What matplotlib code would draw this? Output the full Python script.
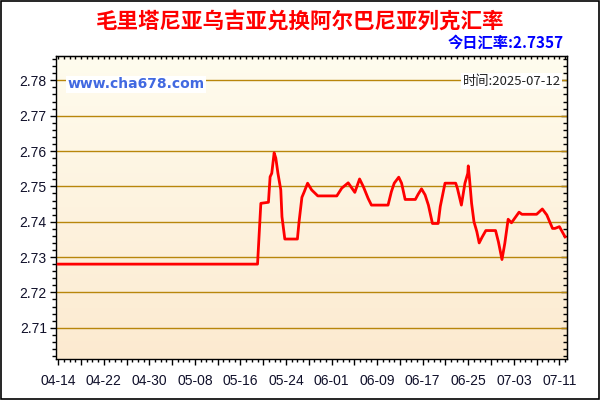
import matplotlib
matplotlib.use('Agg')
import matplotlib.pyplot as plt
import matplotlib.dates as mdates
from matplotlib.colors import LinearSegmentedColormap
from matplotlib.patches import Rectangle
from matplotlib.ticker import MultipleLocator, FixedLocator, FixedFormatter, NullFormatter
import numpy as np
import pandas as pd

plt.rcParams['font.family'] = ['Liberation Sans', 'Noto Sans CJK SC', 'DejaVu Sans']

title = '毛里塔尼亚乌吉亚兑换阿尔巴尼亚列克汇率'
today_rate = '今日汇率:2.7357'
site = 'www.cha678.com'
stamp = '时间:2025-07-12'

# rate readings (date + hour, value)
times = ['2025-04-14 00', '2025-05-19 00', '2025-05-19 14', '2025-05-20 22', '2025-05-21 05',
         '2025-05-21 12', '2025-05-21 22', '2025-05-22 05', '2025-05-22 14', '2025-05-23 02',
         '2025-05-23 07', '2025-05-23 19', '2025-05-26 00', '2025-05-26 07', '2025-05-26 19',
         '2025-05-27 05', '2025-05-27 19', '2025-05-28 12', '2025-05-29 14', '2025-06-01 22',
         '2025-06-02 19', '2025-06-03 22', '2025-06-05 02', '2025-06-05 22', '2025-06-06 14',
         '2025-06-07 10', '2025-06-08 00', '2025-06-10 22', '2025-06-11 12', '2025-06-12 00',
         '2025-06-12 19', '2025-06-13 07', '2025-06-13 22', '2025-06-15 17', '2025-06-16 05',
         '2025-06-16 19', '2025-06-17 10', '2025-06-18 00', '2025-06-18 17', '2025-06-19 17',
         '2025-06-20 02', '2025-06-20 22', '2025-06-22 19', '2025-06-23 02', '2025-06-23 19',
         '2025-06-24 10', '2025-06-24 22', '2025-06-25 00', '2025-06-25 05', '2025-06-25 14',
         '2025-06-26 00', '2025-06-26 12', '2025-06-26 22', '2025-06-27 10', '2025-06-28 02',
         '2025-06-29 19', '2025-06-30 07', '2025-06-30 22', '2025-07-01 10', '2025-07-02 00',
         '2025-07-02 14', '2025-07-03 22', '2025-07-04 10', '2025-07-07 00', '2025-07-08 00',
         '2025-07-08 19', '2025-07-09 19', '2025-07-10 05', '2025-07-11 00', '2025-07-12 00']
rates = [2.728, 2.728, 2.7452, 2.7455, 2.7527,
         2.7537, 2.7595, 2.758, 2.7537, 2.749,
         2.7414, 2.7351, 2.7351, 2.740, 2.7469,
         2.7485, 2.7509, 2.749, 2.7473, 2.7473,
         2.7495, 2.751, 2.7483, 2.7521, 2.7499,
         2.7466, 2.7447, 2.7447, 2.7485, 2.7509,
         2.7526, 2.7509, 2.7463, 2.7463, 2.7478,
         2.7493, 2.7476, 2.7447, 2.7395, 2.7395,
         2.7443, 2.7509, 2.7509, 2.7495, 2.7447,
         2.7509, 2.7537, 2.7558, 2.7523, 2.7452,
         2.740, 2.7372, 2.734, 2.7356, 2.7375,
         2.7375, 2.7343, 2.7293, 2.7339, 2.7407,
         2.7397, 2.7427, 2.7421, 2.7421, 2.7436,
         2.7419, 2.7381, 2.7381, 2.7386, 2.7357]

tick_labels = ['04-14', '04-22', '04-30', '05-08', '05-16', '05-24',
               '06-01', '06-09', '06-17', '06-25', '07-03', '07-11']

x = pd.to_datetime(times, format='%Y-%m-%d %H')

fig = plt.figure(figsize=(6, 4), dpi=100)
ax = fig.add_axes([0.093, 0.102, 0.852, 0.759])

# background gradient
cmap = LinearSegmentedColormap.from_list('bg', ['#fcead0', '#fffcee'])
ax.imshow(np.linspace(0, 1, 256).reshape(-1, 1), extent=[0, 1, 0, 1], origin='lower',
          transform=ax.transAxes, cmap=cmap, aspect='auto', zorder=0)

ax.plot(x, rates, color='#ff0000', linewidth=2, zorder=3)

x0 = pd.Timestamp('2025-04-14') - pd.Timedelta(hours=10)
x1 = pd.Timestamp('2025-07-12') + pd.Timedelta(hours=8)
ax.set_xlim(x0, x1)
ax.set_ylim(2.7011, 2.787)

# y axis
ax.yaxis.set_major_locator(MultipleLocator(0.01))
ax.yaxis.set_minor_locator(MultipleLocator(0.002))
ax.grid(axis='y', which='major', color='#b8860b', linewidth=1, zorder=1)
ax.tick_params(axis='y', which='major', direction='out', length=4.5, width=1, labelsize=10,
               labelcolor='#10102a', pad=2)
ax.tick_params(axis='y', which='minor', direction='out', length=2.8, width=1)

# x axis: major every 4 days, labels every 8
majors = pd.date_range('2025-04-14', '2025-07-12', freq='4D')
lab = []
for i in range(len(majors)):
    lab.append(tick_labels[i // 2] if i % 2 == 0 else '')
ax.xaxis.set_major_locator(FixedLocator(mdates.date2num(majors)))
ax.xaxis.set_major_formatter(FixedFormatter(lab))
days = pd.date_range('2025-04-14', '2025-07-12', freq='D')
ax.xaxis.set_minor_locator(FixedLocator(mdates.date2num(days)))
ax.xaxis.set_minor_formatter(NullFormatter())
ax.tick_params(axis='x', which='major', direction='out', length=4.3, width=1, labelsize=10,
               labelcolor='#10102a', pad=6)
ax.tick_params(axis='x', which='minor', direction='out', length=2.5, width=1)

# top and right ticks pointing inward
top = ax.secondary_xaxis('top')
top.xaxis.set_major_locator(FixedLocator(mdates.date2num(days)))
top.xaxis.set_major_formatter(NullFormatter())
top.tick_params(direction='in', length=2, width=1)
right = ax.secondary_yaxis('right')
right.yaxis.set_major_locator(MultipleLocator(0.01))
right.yaxis.set_minor_locator(MultipleLocator(0.002))
right.yaxis.set_major_formatter(NullFormatter())
right.tick_params(which='major', direction='in', length=4.5, width=1)
right.tick_params(which='minor', direction='in', length=2.8, width=1)

for s in ax.spines.values():
    s.set_linewidth(1)

fig.text(0.5, 0.947, title, ha='center', va='center', color='#ff0000', fontsize=15.5,
         fontweight='bold', family=['Noto Sans CJK SC'])
fig.text(0.94, 0.892, today_rate, ha='right', va='center', color='#0000ff', fontsize=11,
         fontweight='bold', family=['Noto Sans CJK SC', 'DejaVu Sans'])
ax.text(0.022, 0.905, site, transform=ax.transAxes, ha='left', va='center', color='#4169e1',
        fontsize=10, fontweight='bold', family=['DejaVu Sans'],
        bbox=dict(facecolor='white', edgecolor='none', pad=1), zorder=4)
ax.text(0.988, 0.915, stamp, transform=ax.transAxes, ha='right', va='center', color='#222222',
        fontsize=9.5, family=['Noto Sans CJK SC', 'DejaVu Sans'],
        bbox=dict(facecolor='white', edgecolor='none', pad=1), zorder=4)

fig.patches.append(Rectangle((0.001, 0.0015), 0.997, 0.996, transform=fig.transFigure,
                             fill=False, edgecolor='black', linewidth=1.2))

fig.savefig('out.png', dpi=100)
